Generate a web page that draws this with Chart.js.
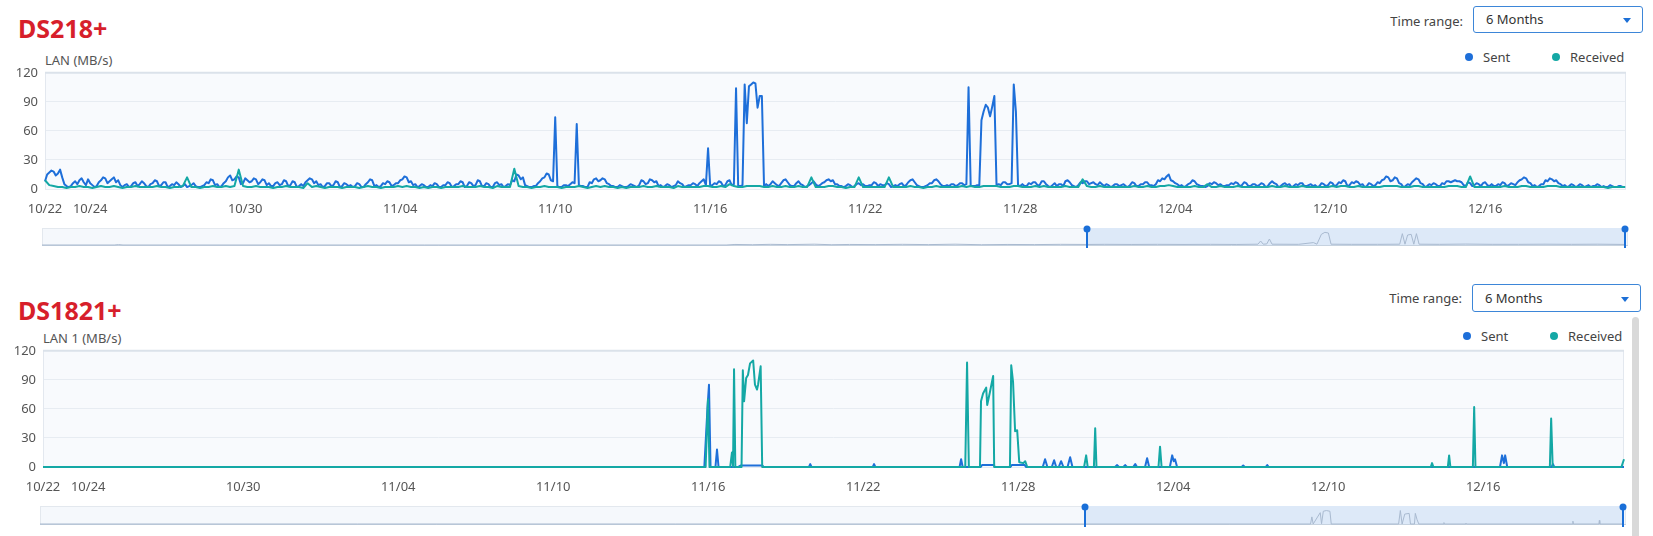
<!DOCTYPE html>
<html><head><meta charset="utf-8">
<script src="https://cdn.jsdelivr.net/npm/chart.js@4.4.1/dist/chart.umd.min.js"></script>
<style>
html,body{margin:0;padding:0;width:1653px;height:536px;overflow:hidden;background:#fff;font-family:"Noto Sans",sans-serif;}
.title{position:absolute;left:18px;font:bold 25px/25px "Noto Sans";color:#d71f2b;white-space:nowrap;}
.unit{position:absolute;font:13px/16px "Noto Sans";color:#555;white-space:nowrap;}
.tr{position:absolute;font:13px/16px "Noto Sans";color:#444;white-space:nowrap;}
.dd{position:absolute;box-sizing:border-box;border:1px solid #3d86d8;border-radius:3px;background:#fff;font:13px/25px "Noto Sans";color:#333;padding-left:12px;}
.dd .arr{position:absolute;right:11px;top:11px;width:0;height:0;border-left:4px solid transparent;border-right:4px solid transparent;border-top:5px solid #1c6fd6;}
.lg{position:absolute;font:13px/16px "Noto Sans";color:#444;white-space:nowrap;}
.dot{position:absolute;width:8px;height:8px;border-radius:50%;}
canvas{position:absolute;left:0;}
.sb{position:absolute;left:1632px;top:317px;width:7px;height:240px;background:#d9d9d9;border-radius:4px;}
</style>
</head>
<body>
<div class="title" style="top:16px">DS218+</div>
<div class="unit" style="left:45px;top:52px">LAN (MB/s)</div>
<div class="tr" style="right:190px;top:13px">Time range:</div>
<div class="dd" style="left:1473px;top:6px;width:170px;height:27px">6 Months<span class="arr"></span></div>
<div class="dot" style="left:1465px;top:53px;background:#1e6fd9"></div>
<div class="lg" style="left:1483px;top:49px">Sent</div>
<div class="dot" style="left:1552px;top:53px;background:#14a8a5"></div>
<div class="lg" style="left:1570px;top:49px">Received</div>
<canvas id="c1" width="1653" height="161" style="top:58px"></canvas>
<canvas id="n1" width="1653" height="30" style="top:222px"></canvas>

<div class="title" style="top:298px">DS1821+</div>
<div class="unit" style="left:43px;top:330px">LAN 1 (MB/s)</div>
<div class="tr" style="right:191px;top:290px">Time range:</div>
<div class="dd" style="left:1472px;top:284px;width:169px;height:28px;line-height:26px">6 Months<span class="arr" style="top:12px"></span></div>
<div class="dot" style="left:1463px;top:332px;background:#1e6fd9"></div>
<div class="lg" style="left:1481px;top:328px">Sent</div>
<div class="dot" style="left:1550px;top:332px;background:#14a8a5"></div>
<div class="lg" style="left:1568px;top:328px">Received</div>
<canvas id="c2" width="1653" height="161" style="top:336px"></canvas>
<canvas id="n2" width="1653" height="30" style="top:500px"></canvas>
<div class="sb"></div>

<script>
// ---------- data ----------
// x unit: days from the left edge of the visible range (10/22)
const tickDays   = [0, 1.75, 7.75, 13.75, 19.75, 25.75, 31.75, 37.75, 43.75, 49.75, 55.75];
const tickLabels = ["10/22","10/24","10/30","11/04","11/10","11/16","11/22","11/28","12/04","12/10","12/16"];
const yTickValues = [0, 30, 60, 90, 120];
const xRangeDays = [0, 61.2];
const sentStepDays = 1/12; // DS218+ Sent: one sample every 2 hours
const recvStepDays = 1/6;  // DS218+ Received: one sample every 4 hours

const ds218Sent = [
 8,15,17,19,18,14,16,20,12,5,3,2,  3,6,8,5,9,11,7,4,10,6,4,2,  3,7,9,12,11,6,8,10,12,7,9,4,
 2,4,5,2,3,6,7,3,5,8,6,3,  2,5,6,9,8,3,4,7,7,2,3,5,  4,7,5,2,3,5,2,3,4,6,3,2,
 2,3,4,7,6,10,9,4,5,2,3,6,  8,12,14,9,10,13,12,5,6,11,9,7,  8,11,10,5,7,10,9,4,6,3,3,6,
 7,4,5,9,8,3,4,8,7,2,3,5,  3,7,9,11,10,6,8,4,5,2,3,6,  6,3,4,8,7,2,3,6,5,3,4,2,
 3,6,5,2,2,5,7,10,9,3,4,2,  3,6,5,8,7,3,4,6,6,9,10,13,  12,7,8,4,5,2,3,5,4,2,2,4,
 3,6,5,2,2,4,4,7,6,2,3,5,  5,8,7,2,3,7,6,3,4,9,8,3,  3,6,5,2,2,6,7,4,5,2,3,5,
 4,9,8,15,14,10,12,4,3,2,2,3,  3,6,8,11,12,16,15,9,8,74,3,2,  2,4,4,3,5,7,6,67,4,3,3,2,
 2,7,6,10,11,8,9,11,10,6,5,3,  3,2,2,4,3,2,2,3,5,4,3,2,  4,9,8,5,6,10,9,7,8,3,4,2,
 3,5,4,2,3,4,8,6,5,2,3,4,  4,6,5,3,6,8,10,4,42,3,4,6,  5,8,7,3,4,8,9,4,5,104,3,3,
 4,108,68,106,108,110,109,84,96,96,3,5,  3,5,8,6,4,3,6,9,10,7,4,3,  3,6,8,5,4,2,3,4,6,8,5,3,
 4,6,7,9,10,8,9,5,5,3,3,2,  3,5,4,2,3,5,6,4,5,3,3,4,  4,7,6,3,5,4,4,6,5,2,3,4,
 3,5,6,3,4,7,9,10,7,4,3,2,  2,3,4,6,6,9,10,8,5,3,3,4,  3,5,5,3,4,6,6,4,5,105,3,3,
 3,4,4,71,80,87,84,75,85,96,4,5,  4,7,7,5,5,6,108,80,4,3,5,3,  3,6,5,7,7,4,4,8,8,5,3,2,
 4,6,3,5,5,3,8,9,7,4,3,2,  4,7,6,8,8,5,6,7,5,4,7,5,  3,5,4,2,3,5,5,3,4,5,3,2,
 4,7,6,3,3,5,5,7,7,4,4,3,  5,9,8,11,10,13,15,9,8,6,5,3,  4,2,3,5,6,9,8,5,4,3,3,2,
 3,6,5,7,6,4,5,3,3,4,4,6,  5,7,6,3,4,7,6,3,3,5,5,3,  4,6,5,2,3,6,8,6,5,2,3,5,
 6,4,5,2,3,5,4,6,6,3,3,4,  5,3,4,2,3,6,5,3,4,7,6,3,  4,7,6,9,8,3,4,7,6,8,7,4,
 5,2,3,6,5,3,4,7,6,9,10,13,  12,8,9,12,11,6,5,2,3,5,4,7,  9,11,10,6,5,2,3,5,4,6,5,3,
 3,6,5,8,8,7,8,9,8,8,7,4,  3,7,6,3,4,6,5,3,6,7,4,3,  5,3,3,5,4,7,6,3,4,6,5,4,
 7,9,10,12,11,7,6,3,4,2,3,5,  5,9,8,11,10,8,9,6,5,3,4,2,  3,5,4,2,3,5,4,2,3,4,2,3,
 3,5,4,2,3,2,2,4,3,2,2,3,  3,2,2
];
const ds218Received = [
 9,4,3,2,2,1, 2,2,3,2,2,1, 2,3,2,2,3,2, 1,2,2,3,2,2, 2,2,3,2,2,1, 2,2,3,12,2,2,
 1,2,2,3,2,2, 3,2,3,20,3,2, 2,3,2,2,2,1, 2,2,3,2,2,2, 1,6,2,3,2,1, 2,2,2,1,2,2,
 2,1,2,3,2,2, 1,2,2,2,3,2, 3,2,2,1,2,1, 2,2,1,2,2,2, 2,3,2,2,2,3, 2,2,1,3,2,2,
 2,21,3,2,2,1, 2,2,3,2,2,2, 1,2,2,2,3,2, 1,2,3,2,3,2, 2,1,2,1,2,2, 2,3,2,2,3,2,
 2,2,1,3,2,2, 2,2,2,3,3,2, 2,3,2,5,3,2, 2,3,3,3,3,2, 2,3,2,2,3,2, 2,3,2,2,12,2,
 2,2,3,3,2,2, 1,2,2,12,2,2, 2,2,2,2,12,2, 2,2,2,3,2,2, 1,2,2,3,2,2, 2,2,2,3,2,3,
 2,2,3,3,3,3, 2,2,2,3,3,2, 2,2,3,2,3,2, 2,2,2,3,2,2, 2,10,3,2,2,3, 2,2,2,2,2,2,
 2,3,2,2,3,2, 2,3,3,4,3,2, 2,2,2,3,2,2, 5,2,2,3,2,2, 2,3,2,2,2,2, 2,2,2,3,2,2,
 3,2,2,2,3,2, 2,2,2,2,2,3, 2,3,3,2,2,3, 2,2,2,2,2,3, 3,3,3,2,2,2, 3,3,2,2,2,2,
 2,2,3,3,3,2, 2,13,2,2,2,2, 2,2,2,3,2,2, 2,3,3,2,2,2, 2,3,3,3,2,2, 2,2,2,2,2,2,
 2,2,2,1,2,2, 2,2
];

const ds1821SentX = [0,25.6,25.72,25.78,25.84,26.03,26.09,26.15,26.9,27.0,27.85,27.9,29.65,29.7,29.75,32.12,32.17,32.22,
 35.48,35.54,35.6,36.3,36.35,36.8,36.85,37.45,37.5,38.0,38.05,38.7,38.79,38.88,39.05,39.14,39.22,39.32,39.41,39.5,39.66,39.76,39.85,
 41.5,41.58,41.65,41.82,41.89,41.96,42.2,42.28,42.35,42.66,42.74,42.82,43.62,43.71,43.77,43.82,43.9,
 46.4,46.46,46.52,47.33,47.39,47.45,56.4,56.48,56.55,56.6,56.68,58.4,58.45,58.5,61.2];
const ds1821SentY = [0,0,60,85,0,0,18,0,0,1.5,1.5,0,0,3,0,0,3,0,
 0,8,0,0,2,2,0,0,2,2,0,0,8,0,0,7,0,0,6,0,0,10,0,
 0,2,0,0,2,0,0,3,0,0,9,0,0,12,6,8,0,
 0,1.5,0,0,2,0,0,12,4,12,0,0,3,0,0];

const ds1821RecvX = [0,25.65,25.74,25.8,26.6,26.67,26.71,26.75,26.8,
 27.04,27.09,27.14,27.22,27.29,27.37,27.49,27.56,27.64,27.68,27.78,27.84,
 35.7,35.77,35.84,36.27,36.31,36.39,36.51,36.55,36.66,36.78,36.82,
 37.43,37.48,37.55,37.63,37.71,37.79,37.95,38.02,38.1,
 40.3,40.38,40.44,40.68,40.73,40.78,43.18,43.24,43.3,53.72,53.77,53.82,
 54.38,54.43,54.48,55.35,55.4,55.45,58.33,58.38,58.44,61.1,61.2];
const ds1821RecvY = [0,0,70,0,0,15,0,101,0,
 0,100,68,92,95,107,110,85,80,85,104,0,
 0,108,0,0,68,76,82,64,78,94,0,
 0,105,88,37,38,5,4,6,0,
 0,12,0,0,40,0,0,21,0,0,4,0,
 0,12,0,0,62,0,0,50,0,0,8];

// navigator (6 months overview), same day units; selection = visible range
const navRangeDays = [-118.7, 61.2];
const navSelection = [0, 61.2];
const nav218X = [-118.7,-110.5,-110,-109.5,-41,-40,-38,-36,-34,-31,-29,-27,-24,-21,-18,-15,-12,-9,-6,-3,0,2,5,8,11,14,17,
 19.4,19.7,20.0,20.4,20.7,21.0,24,25.7,26.1,26.6,27.0,27.4,27.7,30,33,35.5,35.8,36.1,36.4,36.8,37.1,37.4,37.7,40,43,46,49,52,55,58,61.2];
const nav218Y = [0,0,3,0,0,4,2,5,3,6,2,4,3,5,3,6,2,4,3,5,4,5,4,5,4,5,4,
 6,30,6,8,45,6,5,18,6,80,95,90,6,5,5,6,85,6,75,80,6,85,6,5,7,5,5,6,5,6,4];
const nav1821X = [-118.7,25.6,25.75,25.9,26.7,26.85,27.05,27.4,27.8,27.95,35.6,35.8,36.0,36.3,36.8,36.95,37.4,37.5,37.7,37.9,
 40.7,40.75,40.8,43.2,43.25,43.3,55.35,55.4,55.45,58.35,58.4,58.45,61.2];
const nav1821Y = [0,0,50,0,80,2,90,95,90,0,0,95,0,70,75,0,0,75,30,0,
 0,10,0,0,6,0,0,20,0,0,25,0,0];

// ---------- drawing ----------
const SENT = '#1e6fd9', RECV = '#14a8a5';
const FONT = {family:'"Noto Sans", sans-serif', size:13};

const frame = {
  id:'frame',
  beforeDraw(c){
    const {ctx, chartArea:a} = c;
    ctx.save();
    ctx.fillStyle = '#f8fafd';
    ctx.fillRect(a.left, a.top, a.right-a.left, a.bottom-a.top);
    ctx.restore();
  },
  beforeDatasetsDraw(c){
    const {ctx, chartArea:a} = c;
    ctx.save();
    ctx.strokeStyle = '#e3e8ef'; ctx.lineWidth = 1;
    ctx.beginPath();
    ctx.moveTo(a.left+0.5, a.top); ctx.lineTo(a.left+0.5, a.bottom);
    ctx.moveTo(a.right-0.5, a.top); ctx.lineTo(a.right-0.5, a.bottom);
    ctx.stroke();
    ctx.strokeStyle = '#dbe2ea'; ctx.lineWidth = 2;
    ctx.beginPath(); ctx.moveTo(a.left, a.top); ctx.lineTo(a.right, a.top); ctx.stroke();
    ctx.restore();
  }
};

function mainChart(id, sentPts, recvPts, axisW, padRight){
  return new Chart(document.getElementById(id), {
    type:'line',
    data:{datasets:[
      {label:'Sent', data:sentPts, borderColor:SENT, backgroundColor:SENT, borderWidth:2, order:1, clip:3},
      {label:'Received', data:recvPts, borderColor:RECV, backgroundColor:RECV, borderWidth:2, order:0, clip:3}
    ]},
    options:{
      responsive:false, animation:false, events:[],
      layout:{padding:{top:12, right:padRight, left:0, bottom:0}},
      elements:{point:{radius:0}, line:{tension:0, borderJoinStyle:'round'}},
      plugins:{legend:{display:false}, tooltip:{enabled:false}},
      scales:{
        x:{type:'linear', min:xRangeDays[0], max:xRangeDays[1],
           afterBuildTicks:s=>{s.ticks = tickDays.map(v=>({value:v}));},
           afterFit:s=>{s.height = 30;},
           grid:{display:false, drawTicks:false}, border:{display:false},
           ticks:{autoSkip:false, maxRotation:0, padding:12, color:'#555', font:FONT,
                  callback:v=>{const k = tickDays.indexOf(v); return k>=0 ? tickLabels[k] : '';}}},
        y:{min:0, max:120,
           afterBuildTicks:s=>{s.ticks = yTickValues.map(v=>({value:v}));},
           afterFit:s=>{s.width = axisW;},
           grid:{color:'#e7ecf2', lineWidth:1, drawTicks:false}, border:{display:false},
           ticks:{padding:7, color:'#555', font:FONT}}
      }
    },
    plugins:[frame]
  });
}

const navDeco = {
  id:'navDeco',
  beforeDatasetsDraw(c, args, o){
    const {ctx, chartArea:a, scales:{x}} = c;
    ctx.save();
    ctx.fillStyle = '#f5f8fc';
    ctx.fillRect(a.left, a.top-1, a.right-a.left+2, a.bottom-a.top+2);
    ctx.strokeStyle = '#e3e8ee'; ctx.lineWidth = 1;
    ctx.strokeRect(a.left+0.5, a.top-0.5, a.right-a.left+1, a.bottom-a.top+1);
    const x0 = x.getPixelForValue(o.sel[0]), x1 = x.getPixelForValue(o.sel[1]);
    ctx.fillStyle = '#dde9f8';
    ctx.fillRect(x0, a.top-1, x1-x0, a.bottom-a.top+2);
    ctx.strokeStyle = '#c6d2df'; ctx.lineWidth = 1;
    ctx.beginPath(); ctx.moveTo(a.left, a.bottom+0.5); ctx.lineTo(a.right+2, a.bottom+0.5); ctx.stroke();
    ctx.restore();
  },
  afterDatasetsDraw(c, args, o){
    const {ctx, chartArea:a, scales:{x}} = c;
    ctx.save();
    ctx.strokeStyle = '#1a6fd8'; ctx.fillStyle = '#1a6fd8'; ctx.lineWidth = 2;
    o.sel.forEach(v=>{
      const px = Math.round(x.getPixelForValue(v)) - (v===o.sel[1]?1:0);
      ctx.beginPath(); ctx.moveTo(px, a.top); ctx.lineTo(px, a.bottom+3); ctx.stroke();
      ctx.beginPath(); ctx.arc(px, a.top, 3.5, 0, Math.PI*2); ctx.fill();
    });
    ctx.restore();
  }
};

function navChart(id, pts, padLeft, padRight, padTop, padBottom){
  return new Chart(document.getElementById(id), {
    type:'line',
    data:{datasets:[{data:pts, borderColor:'#a9bad0', borderWidth:1, clip:2}]},
    options:{
      responsive:false, animation:false, events:[],
      layout:{padding:{left:padLeft, right:padRight, top:padTop, bottom:padBottom}},
      elements:{point:{radius:0}, line:{tension:0}},
      plugins:{legend:{display:false}, tooltip:{enabled:false}, navDeco:{sel:navSelection}},
      scales:{
        x:{type:'linear', display:false, min:navRangeDays[0], max:navRangeDays[1]},
        y:{display:false, min:0, max:120}
      }
    },
    plugins:[navDeco]
  });
}

const toPts = (xs, ys) => xs.map((x,i)=>({x, y:ys[i]}));
const stepPts = (ys, step) => ys.map((y,i)=>({x:i*step, y}));

mainChart('c1', stepPts(ds218Sent, sentStepDays), stepPts(ds218Received, recvStepDays), 45, 27);
navChart('n1', toPts(nav218X, nav218Y), 42, 27, 7, 7);
mainChart('c2', toPts(ds1821SentX, ds1821SentY), toPts(ds1821RecvX, ds1821RecvY), 43, 29);
navChart('n2', toPts(nav1821X, nav1821Y), 40, 29, 7, 6);
</script>
</body></html>
